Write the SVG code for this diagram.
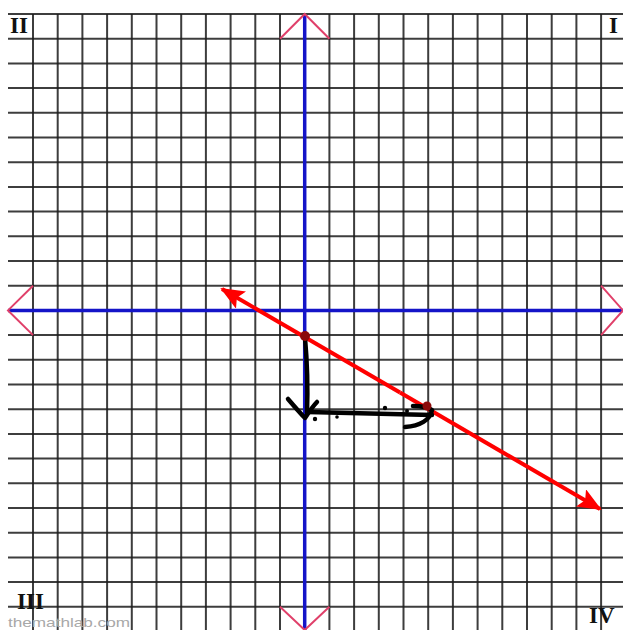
<svg xmlns="http://www.w3.org/2000/svg" width="623" height="630" viewBox="0 0 623 630">
<style>
.grid line{stroke:#1c1c1c;stroke-width:2;opacity:0.85}
.axis{stroke:#1414c8;stroke-width:3.5;fill:none}
.tip{stroke:#e0406a;stroke-width:2;fill:none}
.quad{font-family:"Liberation Serif",serif;font-weight:bold;font-size:23px;fill:#111}
.sketch{stroke:#000;stroke-width:4.5;fill:none;stroke-linecap:round;stroke-linejoin:round}
.dot{fill:#8b0a0a}
.red{stroke:#ff0000;stroke-width:4;marker-end:url(#ah)}
</style>
<defs>
<marker id="ah" markerWidth="6" markerHeight="5" refX="5.5" refY="2.5" orient="auto" markerUnits="strokeWidth">
<path d="M0,0 L6,2.5 L0,5 L1.2,2.5 Z" fill="#ff0000"/>
</marker>
</defs>
<rect width="623" height="630" fill="#fff"/>
<g class="grid" id="grid">
<line x1="33" y1="14" x2="33" y2="630"/><line x1="57.7" y1="14" x2="57.7" y2="630"/><line x1="82.4" y1="14" x2="82.4" y2="630"/><line x1="107.1" y1="14" x2="107.1" y2="630"/><line x1="131.8" y1="14" x2="131.8" y2="630"/><line x1="156.5" y1="14" x2="156.5" y2="630"/><line x1="181.2" y1="14" x2="181.2" y2="630"/><line x1="205.9" y1="14" x2="205.9" y2="630"/><line x1="230.6" y1="14" x2="230.6" y2="630"/><line x1="255.3" y1="14" x2="255.3" y2="630"/><line x1="280" y1="14" x2="280" y2="630"/><line x1="329.4" y1="14" x2="329.4" y2="630"/><line x1="354.1" y1="14" x2="354.1" y2="630"/><line x1="378.8" y1="14" x2="378.8" y2="630"/><line x1="403.5" y1="14" x2="403.5" y2="630"/><line x1="428.2" y1="14" x2="428.2" y2="630"/><line x1="452.9" y1="14" x2="452.9" y2="630"/><line x1="477.6" y1="14" x2="477.6" y2="630"/><line x1="502.3" y1="14" x2="502.3" y2="630"/><line x1="527" y1="14" x2="527" y2="630"/><line x1="551.7" y1="14" x2="551.7" y2="630"/><line x1="576.4" y1="14" x2="576.4" y2="630"/><line x1="601.1" y1="14" x2="601.1" y2="630"/>
<line x1="8" y1="14" x2="623" y2="14"/><line x1="8" y1="38.7" x2="623" y2="38.7"/><line x1="8" y1="63.4" x2="623" y2="63.4"/><line x1="8" y1="88.1" x2="623" y2="88.1"/><line x1="8" y1="112.8" x2="623" y2="112.8"/><line x1="8" y1="137.5" x2="623" y2="137.5"/><line x1="8" y1="162.2" x2="623" y2="162.2"/><line x1="8" y1="186.9" x2="623" y2="186.9"/><line x1="8" y1="211.6" x2="623" y2="211.6"/><line x1="8" y1="236.3" x2="623" y2="236.3"/><line x1="8" y1="261" x2="623" y2="261"/><line x1="8" y1="285.7" x2="623" y2="285.7"/><line x1="8" y1="335.1" x2="623" y2="335.1"/><line x1="8" y1="359.8" x2="623" y2="359.8"/><line x1="8" y1="384.5" x2="623" y2="384.5"/><line x1="8" y1="409.2" x2="623" y2="409.2"/><line x1="8" y1="433.9" x2="623" y2="433.9"/><line x1="8" y1="458.6" x2="623" y2="458.6"/><line x1="8" y1="483.3" x2="623" y2="483.3"/><line x1="8" y1="508" x2="623" y2="508"/><line x1="8" y1="532.7" x2="623" y2="532.7"/><line x1="8" y1="557.4" x2="623" y2="557.4"/><line x1="8" y1="582.1" x2="623" y2="582.1"/><line x1="8" y1="606.8" x2="623" y2="606.8"/>
</g>
<g id="axes">
<line class="axis" x1="304.7" y1="14" x2="304.7" y2="630"/>
<line class="axis" x1="8" y1="310.4" x2="623" y2="310.4"/>
<path class="tip" d="M280,38.7 L304.7,14 L329.4,38.7"/>
<path class="tip" d="M280,606.8 L304.7,630 L329.4,606.8"/>
<path class="tip" d="M33,285.7 L8,310.4 L33,335.1"/>
<path class="tip" d="M601.1,285.7 L623,310.4 L601.1,335.1"/>
</g>
<g id="labels">
<text class="quad" x="10" y="33">II</text>
<text class="quad" x="609" y="33">I</text>
<text class="quad" x="17" y="609" font-size="21">III</text>
<text class="quad" x="589" y="623">IV</text>
<text x="8" y="627" font-family="Liberation Sans,sans-serif" font-size="13" fill="#a8a8a8" textLength="122" lengthAdjust="spacingAndGlyphs">themathlab.com</text>
</g>
<g id="connectors">
<line class="red" x1="400" y1="392.5" x2="222" y2="289"/>
<line class="red" x1="400" y1="392.5" x2="600" y2="509"/>
</g>
<g id="sketch">
<path class="sketch" d="M305,338 C307,360 308,385 307,413"/>
<path class="sketch" d="M288,399 C294,406 300,413 305,418 C309,412 313,406 317,402"/>
<path class="sketch" d="M308,412 C340,413 380,414 432,415"/>
<path class="sketch" d="M413,406 C422,406 428,407 432,410 C430,420 420,426 405,427"/>
<circle cx="315" cy="419" r="2.2" fill="#000"/>
<circle cx="337" cy="417" r="1.8" fill="#000"/>
<circle cx="359" cy="413" r="1.8" fill="#000"/>
<circle cx="385" cy="408" r="2.2" fill="#000"/>
<circle cx="407" cy="411" r="2" fill="#000"/>
</g>
<g id="points">
<circle class="dot" cx="305" cy="336" r="5"/>
<circle class="dot" cx="427" cy="406" r="4.5"/>
</g>
</svg>
